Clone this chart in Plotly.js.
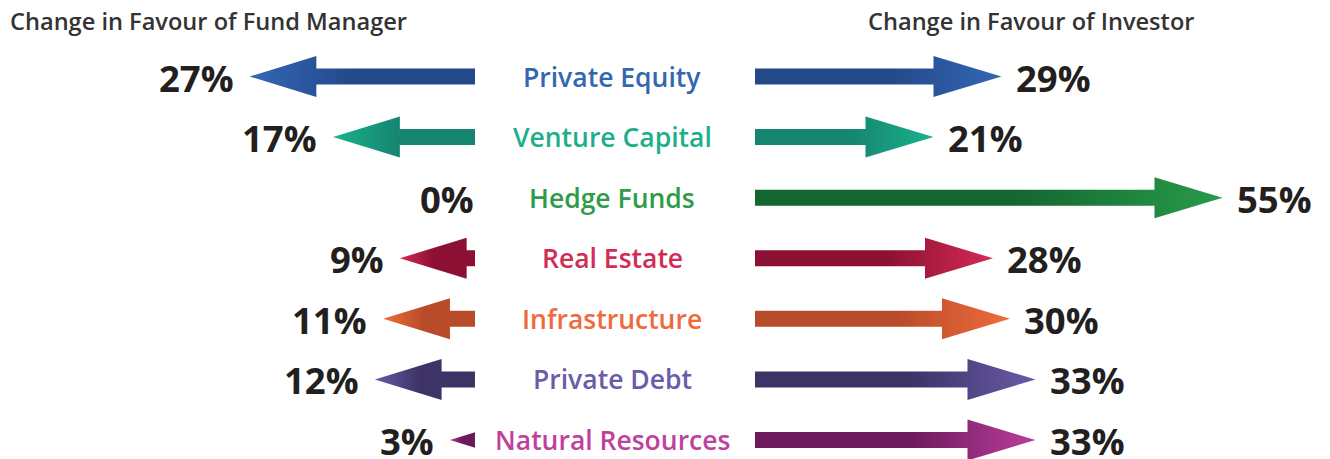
<!DOCTYPE html>
<html>
<head>
<meta charset="utf-8">
<script src="https://cdn.plot.ly/plotly-3.0.1.min.js"></script>
<style>html,body{margin:0;padding:0;background:#fff;}#chart{width:1330px;height:459px;}</style>
</head>
<body>
<div id="chart"></div>
<script>
// ---- data ----
const categories = ['Private Equity','Venture Capital','Hedge Funds','Real Estate','Infrastructure','Private Debt','Natural Resources'];
const managerPct = [27, 17, 0, 9, 11, 12, 3];     // change in favour of fund manager
const investorPct = [29, 21, 55, 28, 30, 33, 33]; // change in favour of investor
const labelColors = ['#3467b0','#1fae8c','#2e9c48','#d12d55','#ee6b3d','#6a5bab','#c0409e'];
const baseColors  = ['#24498a','#168672','#14662e','#8c1034','#b84b29','#3d3366','#6c1a5c'];
const tipColors   = ['#3467b5','#1ab28b','#289b4b','#d52b53','#f06b3c','#6a5aa9','#ba3d9b'];
const headerLeft = 'Change in Favour of Fund Manager';
const headerRight = 'Change in Favour of Investor';

// ---- geometry (axis units) ----
const HEAD_LEN = 8;      // in % units
const HEAD_HALF = 0.338; // in row units
const SHAFT_HALF = 0.132;

// arrow from 0 to signed value v (negative = pointing left)
function arrowPath(v, row) {
  const a = Math.abs(v), s = Math.sign(v);
  if (a <= 0) return null;
  if (a >= HEAD_LEN) {
    const b = s * (a - HEAD_LEN);
    return {
      x: [0, b, b, v, b, b, 0, 0],
      y: [row - SHAFT_HALF, row - SHAFT_HALF, row - HEAD_HALF, row, row + HEAD_HALF, row + SHAFT_HALF, row + SHAFT_HALF, row - SHAFT_HALF]
    };
  }
  const f = a / HEAD_LEN;
  return { x: [0, v, 0, 0], y: [row - HEAD_HALF * f, row, row + HEAD_HALF * f, row - HEAD_HALF * f] };
}

const traces = [];
const annotations = [];
categories.forEach((cat, i) => {
  [[-managerPct[i], 'x', true], [investorPct[i], 'x2', false]].forEach(([v, xa, isLeft]) => {
    const p = arrowPath(v, i);
    if (!p) return;
    const cs = isLeft
      ? [[0, tipColors[i]], [0.45, baseColors[i]], [1, baseColors[i]]]
      : [[0, baseColors[i]], [0.55, baseColors[i]], [1, tipColors[i]]];
    traces.push({
      type: 'scatter', mode: 'lines', x: p.x, y: p.y, xaxis: xa, yaxis: 'y',
      fill: 'toself', line: { width: 0, color: 'rgba(0,0,0,0)' },
      fillgradient: { type: 'horizontal', colorscale: cs },
      hoverinfo: 'skip', showlegend: false
    });
  });
  annotations.push({
    xref: 'paper', yref: 'y', x: 612 / 1330, y: i, text: cat, showarrow: false,
    xanchor: 'center', yanchor: 'middle',
    font: { family: 'Open Sans', size: 26.5, weight: 600, color: labelColors[i] }
  });
  annotations.push({
    xref: 'x', yref: 'y', x: -managerPct[i], y: i, text: managerPct[i] + '%', showarrow: false,
    xanchor: 'right', yanchor: 'middle', xshift: managerPct[i] > 0 ? -14 : 1, yshift: -1,
    font: { family: 'Open Sans', size: 36.5, weight: 700, color: '#231f20' }
  });
  annotations.push({
    xref: 'x2', yref: 'y', x: investorPct[i], y: i, text: investorPct[i] + '%', showarrow: false,
    xanchor: 'left', yanchor: 'middle', xshift: 12, yshift: -1,
    font: { family: 'Open Sans', size: 36.5, weight: 700, color: '#231f20' }
  });
});
annotations.push({
  xref: 'paper', yref: 'paper', x: 8 / 1330, y: 1 - 21 / 459, text: headerLeft, showarrow: false,
  xanchor: 'left', yanchor: 'middle', font: { family: 'Open Sans', size: 23.6, weight: 600, color: '#333333' }
});
annotations.push({
  xref: 'paper', yref: 'paper', x: 866 / 1330, y: 1 - 21 / 459, text: headerRight, showarrow: false,
  xanchor: 'left', yanchor: 'middle', font: { family: 'Open Sans', size: 23.6, weight: 600, color: '#333333' }
});

const hidden = { showgrid: false, zeroline: false, showticklabels: false, ticks: '', showline: false, fixedrange: true };
const layout = {
  width: 1330, height: 459,
  margin: { l: 0, r: 0, t: 0, b: 0, pad: 0 },
  paper_bgcolor: '#ffffff', plot_bgcolor: '#ffffff',
  xaxis: Object.assign({ domain: [0, 475 / 1330], range: [-475 / 8.35, 0] }, hidden),
  xaxis2: Object.assign({ domain: [755 / 1330, 1], range: [0, 575 / 8.5], anchor: 'y' }, hidden),
  yaxis: Object.assign({ range: [6 + 19 / 60.58, -76.5 / 60.58] }, hidden),
  annotations: annotations,
  showlegend: false,
  hovermode: false
};
Plotly.newPlot('chart', traces, layout, { displayModeBar: false, staticPlot: true });
</script>
</body>
</html>
